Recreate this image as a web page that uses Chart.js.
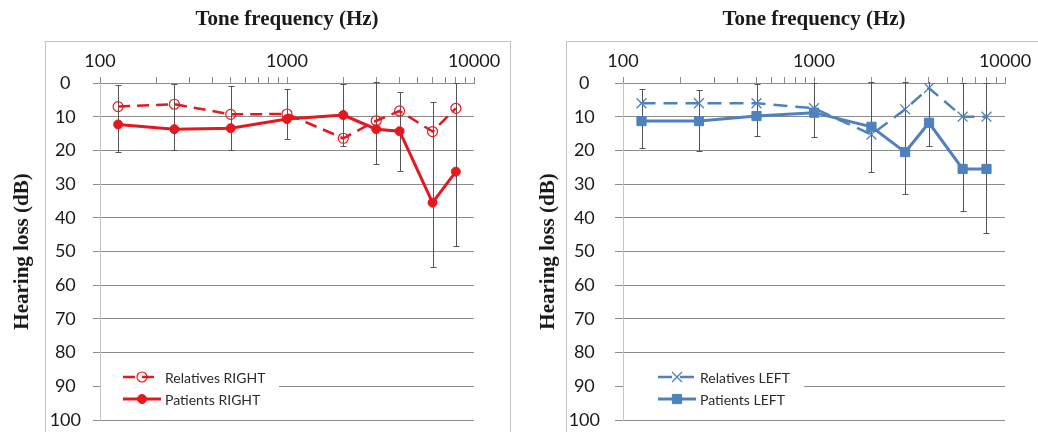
<!DOCTYPE html>
<html>
<head>
<meta charset="utf-8">
<script src="https://cdn.jsdelivr.net/npm/chart.js@4.4.1/dist/chart.umd.min.js"></script>
<style>
    html, body { margin: 0; padding: 0; background: #fff; overflow: hidden; }
    body { width: 1038px; height: 432px; position: relative; }
    canvas { position: absolute; top: 0; }
    #leftChart { left: 0; }
    #rightChart { left: 519px; }
    .frame { position: absolute; top: 41px; height: 420px; border: 1px solid #c2c2c2; box-sizing: border-box; }
</style>
</head>
<body>
<div class="frame" style="left:45px;width:466px"></div>
<div class="frame" style="left:566px;width:490px"></div>
<canvas id="leftChart" width="519" height="460"></canvas>
<canvas id="rightChart" width="519" height="460"></canvas>
<script>
// Audiogram data (hearing loss in dB per tone frequency)
const frequencies = [125, 250, 500, 1000, 2000, 3000, 4000, 6000, 8000];
const freqTicks = [100, 200, 300, 400, 500, 600, 700, 800, 900, 1000,
    2000, 3000, 4000, 5000, 6000, 7000, 8000, 9000, 10000];
const freqLabels = [100, 1000, 10000];

const relativesRight = [7, 6.3, 9.3, 9.2, 16.4, 11.2, 8.3, 14.4, 7.5];
const relativesRightSd = [6.5, 6, 8.3, 7.5, 1.6, 11.5, 5, 8.8, 7.5];
const patientsRight = [12.3, 13.7, 13.4, 10.7, 9.5, 13.7, 14.3, 35.5, 26.3];
const patientsRightSd = [8.2, 6.3, 6.4, 5.3, 9.3, 10.3, 11.7, 19, 22];

const relativesLeft = [6, 6, 6, 7.5, 15.3, 7.8, 1.5, 10, 10];
const relativesLeftSd = [4.2, 3.8, 5.7, 7.5, 10, 8, 2, 10, 10];
const patientsLeft = [11.3, 11.3, 9.8, 8.8, 13, 20.5, 11.8, 25.5, 25.5];
const patientsLeftSd = [8, 8.9, 6, 7.2, 13.3, 12.5, 6.9, 12.5, 19];

const RED = '#e3191f';
const BLUE = '#4f81bd';
const GRID = '#8c8c8c';
const TEXT = '#1a1a1a';

const toPoints = vals => frequencies.map((f, i) => ({ x: f, y: vals[i] }));

// vertical error bars (mean +/- sd); overlapping bars of both series
// share one stem, caps only at the outer ends
const errorBarPlugin = {
    id: 'errorBars',
    beforeDatasetsDraw(chart) {
        const { ctx, chartArea: area, scales: { x, y } } = chart;
        ctx.save();
        ctx.beginPath();
        ctx.rect(area.left, area.top - 1, area.right - area.left, area.bottom - area.top + 1);
        ctx.clip();
        ctx.strokeStyle = '#555';
        ctx.lineWidth = 1;
        frequencies.forEach((f, i) => {
            let lo = Infinity, hi = -Infinity;
            chart.data.datasets.forEach(ds => {
                lo = Math.min(lo, ds.data[i].y - ds.errors[i]);
                hi = Math.max(hi, ds.data[i].y + ds.errors[i]);
            });
            const px = Math.round(x.getPixelForValue(f)) + 0.5;
            const top = Math.round(y.getPixelForValue(lo)) + 0.5;
            const bot = Math.round(y.getPixelForValue(hi)) + 0.5;
            ctx.beginPath();
            ctx.moveTo(px, top);
            ctx.lineTo(px, bot);
            ctx.moveTo(px - 3, top);
            ctx.lineTo(px + 3, top);
            ctx.moveTo(px - 3, bot);
            ctx.lineTo(px + 3, bot);
            ctx.stroke();
        });
        ctx.restore();
    }
};

// legend sitting inside the plot, bottom left
const insideLegend = {
    id: 'insideLegend',
    afterDraw(chart, args, opts) {
        const { ctx, chartArea: area } = chart;
        ctx.save();
        ctx.fillStyle = '#fff';
        ctx.fillRect(area.left + 1, area.bottom - 58, opts.boxWidth, 50);
        chart.data.datasets.forEach((ds, i) => {
            const y = area.bottom - 43 + i * 22;
            const x0 = area.left + opts.lineStart;
            ctx.strokeStyle = ds.borderColor;
            ctx.lineWidth = ds.borderWidth;
            ctx.setLineDash(ds.borderDash || []);
            ctx.beginPath();
            ctx.moveTo(x0, y);
            ctx.lineTo(x0 + opts.lineLen, y);
            ctx.stroke();
            ctx.setLineDash([]);
            ctx.fillStyle = ds.pointBackgroundColor;
            ctx.strokeStyle = ds.pointBorderColor;
            ctx.lineWidth = ds.pointBorderWidth;
            Chart.helpers.drawPoint(ctx, {
                pointStyle: ds.pointStyle,
                radius: ds.pointRadius,
                borderWidth: ds.pointBorderWidth,
                rotation: 0
            }, x0 + opts.lineLen / 2, y);
            ctx.fillStyle = '#2a2a2a';
            ctx.font = '14px Lato';
            ctx.textBaseline = 'middle';
            ctx.textAlign = 'left';
            ctx.fillText(ds.label, x0 + opts.lineLen + 4, y + 1);
        });
        ctx.restore();
    }
};

function makeChart(canvasId, cfg) {
    return new Chart(document.getElementById(canvasId), {
        type: 'line',
        data: { datasets: cfg.datasets },
        options: {
            responsive: false,
            animation: false,
            devicePixelRatio: 1,
            layout: { padding: { left: 0, top: 0, right: cfg.padRight, bottom: 40 } },
            plugins: {
                legend: { display: false },
                tooltip: { enabled: false },
                insideLegend: cfg.legend
            },
            scales: {
                x: {
                    type: 'logarithmic',
                    position: 'top',
                    min: 100,
                    max: 10000,
                    afterFit: s => { s.height = 83; },
                    afterBuildTicks: s => { s.ticks = freqTicks.map(v => ({ value: v })); },
                    grid: { drawOnChartArea: false, drawTicks: true, tickLength: 6, color: GRID },
                    border: { display: true, color: GRID },
                    ticks: {
                        autoSkip: false,
                        maxRotation: 0,
                        minRotation: 0,
                        padding: 5,
                        color: TEXT,
                        font: { family: 'Lato', size: 18 },
                        callback: v => freqLabels.includes(v) ? String(v) : ''
                    },
                    title: {
                        display: true,
                        text: 'Tone frequency (Hz)',
                        color: TEXT,
                        font: { family: 'Liberation Serif', size: 21, weight: 'bold' },
                        padding: { top: 7, bottom: 0 }
                    }
                },
                y: {
                    type: 'linear',
                    reverse: true,
                    min: 0,
                    max: 100,
                    afterFit: s => { s.width = cfg.axisWidth; },
                    grid: { color: GRID, tickLength: cfg.tickLen },
                    border: { display: true, color: '#c4c4c4' },
                    ticks: {
                        stepSize: 10,
                        crossAlign: 'center',
                        padding: cfg.tickPad,
                        color: TEXT,
                        font: { family: 'Lato', size: 18 }
                    },
                    title: {
                        display: true,
                        text: 'Hearing loss (dB)',
                        color: TEXT,
                        font: { family: 'Liberation Serif', size: 21, weight: 'bold' },
                        padding: { top: cfg.titlePad, bottom: 0 }
                    }
                }
            }
        },
        plugins: [errorBarPlugin, insideLegend]
    });
}

makeChart('leftChart', {
    axisWidth: 100,
    padRight: 45,
    tickLen: 7,
    tickPad: 12,
    titlePad: 10,
    legend: { lineStart: 23, lineLen: 38, boxWidth: 178 },
    datasets: [
        {
            label: 'Relatives RIGHT',
            data: toPoints(relativesRight),
            errors: relativesRightSd,
            borderColor: RED,
            borderWidth: 2.5,
            borderDash: [12, 7],
            pointStyle: 'circle',
            pointRadius: 5,
            pointBorderWidth: 1.2,
            pointBackgroundColor: 'rgba(255,255,255,0)',
            pointBorderColor: RED,
            order: 1
        },
        {
            label: 'Patients RIGHT',
            data: toPoints(patientsRight),
            errors: patientsRightSd,
            borderColor: RED,
            borderWidth: 3,
            pointStyle: 'circle',
            pointRadius: 4.5,
            pointBorderWidth: 1,
            pointBackgroundColor: RED,
            pointBorderColor: RED,
            order: 0
        }
    ]
});

makeChart('rightChart', {
    axisWidth: 104,
    padRight: 33,
    tickLen: 8,
    tickPad: 15,
    titlePad: 17,
    legend: { lineStart: 35, lineLen: 38, boxWidth: 180 },
    datasets: [
        {
            label: 'Relatives LEFT',
            data: toPoints(relativesLeft),
            errors: relativesLeftSd,
            borderColor: BLUE,
            borderWidth: 2.5,
            borderDash: [14, 8],
            pointStyle: 'crossRot',
            pointRadius: 7,
            pointBorderWidth: 1.3,
            pointBackgroundColor: BLUE,
            pointBorderColor: BLUE,
            order: 1
        },
        {
            label: 'Patients LEFT',
            data: toPoints(patientsLeft),
            errors: patientsLeftSd,
            borderColor: BLUE,
            borderWidth: 3,
            pointStyle: 'rect',
            pointRadius: 6.5,
            pointBorderWidth: 1,
            pointBackgroundColor: BLUE,
            pointBorderColor: BLUE,
            order: 0
        }
    ]
});
</script>
</body>
</html>
